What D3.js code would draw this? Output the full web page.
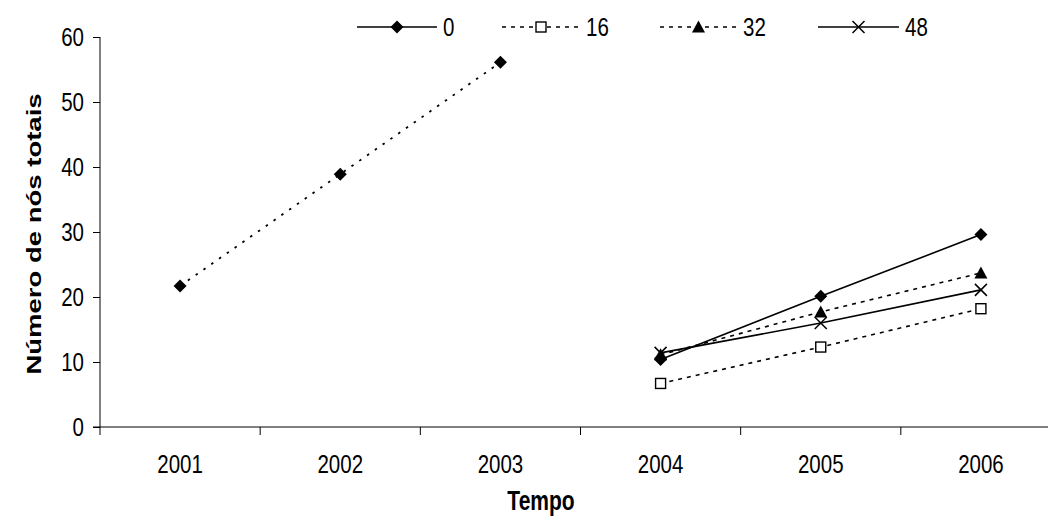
<!DOCTYPE html>
<html>
<head>
<meta charset="utf-8">
<script src="https://cdn.jsdelivr.net/npm/d3@7"></script>
<style>
  html, body { margin: 0; padding: 0; background: #fff; }
  svg { display: block; font-family: "Liberation Sans", Arial, sans-serif; }
</style>
</head>
<body>
<svg id="chart" width="1048" height="523"></svg>
<script>
// ---- data ----
const years = ["2001", "2002", "2003", "2004", "2005", "2006"];
const yTicks = [0, 10, 20, 30, 40, 50, 60];
const seriesNames = ["0", "16", "32", "48"];
// early period (2001-2003), drawn as a separate dotted trace with diamonds
const earlyYears = ["2001", "2002", "2003"];
const earlyValues = [21.7, 38.9, 56.1];
// later period (2004-2006)
const lateYears = ["2004", "2005", "2006"];
const s0 = [10.4, 20.1, 29.6];
const s16 = [6.7, 12.3, 18.2];
const s32 = [11.1, 17.7, 23.7];
const s48 = [11.4, 16.0, 21.1];

const styles = {
  "0":  { dash: null,  marker: "diamond" },
  "16": { dash: "4,5", marker: "square" },
  "32": { dash: "4,5", marker: "triangle" },
  "48": { dash: null,  marker: "cross" }
};
const lateData = { "0": s0, "16": s16, "32": s32, "48": s48 };

const TICK_FS = 20.5;
const TICK_STRETCH = 1.22;
const TITLE_FS = 21;
const STRETCH = 1.31;

const svg = d3.select("#chart");
const x = d3.scaleBand().domain(years).range([100, 1061]).paddingInner(0).paddingOuter(0);
const y = d3.scaleLinear().domain([0, 60]).range([427, 37]);
const cx = d => x(d) + x.bandwidth() / 2;

// y axis (line + ticks from d3, labels drawn stretched)
const yAxis = d3.axisLeft(y).tickValues(yTicks).tickSize(7).tickFormat("");
const gy = svg.append("g").attr("transform", "translate(100,0)").call(yAxis);
gy.select(".domain").attr("d", "M0,37V427");
svg.append("g").selectAll("text").data(yTicks).enter().append("text")
  .attr("transform", d => `translate(84,${y(d)}) scale(1,${TICK_STRETCH})`)
  .attr("dy", "0.36em").attr("text-anchor", "end").attr("font-size", TICK_FS)
  .text(d3.format("d"));

// x axis
const gx = svg.append("g").attr("transform", "translate(0,427)");
gx.append("line").attr("x1", 93).attr("x2", 1061).attr("y1", 0).attr("y2", 0).attr("stroke", "#000");
const bounds = years.map(d => x(d)).concat([x(years[years.length-1]) + x.bandwidth()]);
gx.selectAll("line.tk").data(bounds).enter().append("line")
  .attr("class", "tk").attr("x1", d => d).attr("x2", d => d).attr("y1", 0).attr("y2", 8).attr("stroke", "#000");
gx.selectAll("text.lbl").data(years).enter().append("text")
  .attr("class", "lbl").attr("transform", d => `translate(${cx(d)},46) scale(1,${TICK_STRETCH})`)
  .attr("text-anchor", "middle").attr("font-size", TICK_FS).text(d => d);

// axis titles (stretched, as in the reference)
svg.append("text").attr("transform", `translate(541,510) scale(1,${STRETCH})`).attr("text-anchor", "middle")
  .attr("font-size", TITLE_FS).attr("font-weight", "bold").text("Tempo");
svg.append("text").attr("transform", `translate(41,234) rotate(-90) scale(${STRETCH},1)`).attr("text-anchor", "middle")
  .attr("font-size", TITLE_FS).attr("font-weight", "bold").text("Número de nós totais");

// marker drawing
function drawMarker(g, type, px, py) {
  if (type === "diamond") {
    const r = 6.5;
    g.append("path").attr("d", `M${px},${py-r}L${px+r},${py}L${px},${py+r}L${px-r},${py}Z`).attr("fill", "#000");
  } else if (type === "square") {
    const r = 5;
    g.append("rect").attr("x", px-r).attr("y", py-r).attr("width", 2*r).attr("height", 2*r)
      .attr("fill", "#fff").attr("stroke", "#000").attr("stroke-width", 1.4);
  } else if (type === "triangle") {
    const r = 6.5;
    g.append("path").attr("d", `M${px},${py-r}L${px+r},${py+r-1}L${px-r},${py+r-1}Z`).attr("fill", "#000");
  } else if (type === "cross") {
    const r = 6;
    g.append("path").attr("d", `M${px-r},${py-r}L${px+r},${py+r}M${px-r},${py+r}L${px+r},${py-r}`)
      .attr("stroke", "#000").attr("stroke-width", 1.5).attr("fill", "none");
  }
}

const line = d3.line().x(d => cx(d.year)).y(d => y(d.value));

// early trace
const early = earlyYears.map((yr, i) => ({ year: yr, value: earlyValues[i] }));
const ge = svg.append("g");
ge.append("path").datum(early).attr("d", line).attr("fill", "none").attr("stroke", "#000")
  .attr("stroke-width", 1.8).attr("stroke-dasharray", "2.5,7");
early.forEach(d => drawMarker(ge, "diamond", cx(d.year), y(d.value)));

// late traces
seriesNames.forEach(name => {
  const data = lateYears.map((yr, i) => ({ year: yr, value: lateData[name][i] }));
  const g = svg.append("g");
  const p = g.append("path").datum(data).attr("d", line).attr("fill", "none")
    .attr("stroke", "#000").attr("stroke-width", 1.6);
  if (styles[name].dash) p.attr("stroke-dasharray", styles[name].dash);
  data.forEach(d => drawMarker(g, styles[name].marker, cx(d.year), y(d.value)));
});

// legend
const legendX = [357, 502, 660, 818];
const legendW = [80, 78, 77, 81];
const legendY = 27;
seriesNames.forEach((name, i) => {
  const g = svg.append("g");
  const x0 = legendX[i], x1 = legendX[i] + legendW[i];
  const l = g.append("line").attr("x1", x0).attr("x2", x1).attr("y1", legendY).attr("y2", legendY)
    .attr("stroke", "#000").attr("stroke-width", 1.6);
  if (styles[name].dash) l.attr("stroke-dasharray", styles[name].dash);
  drawMarker(g, styles[name].marker, (x0 + x1) / 2, legendY);
  g.append("text").attr("transform", `translate(${x1 + 6},${legendY}) scale(1,${TICK_STRETCH})`)
    .attr("dy", "0.36em").attr("font-size", TICK_FS).text(name);
});
</script>
</body>
</html>
